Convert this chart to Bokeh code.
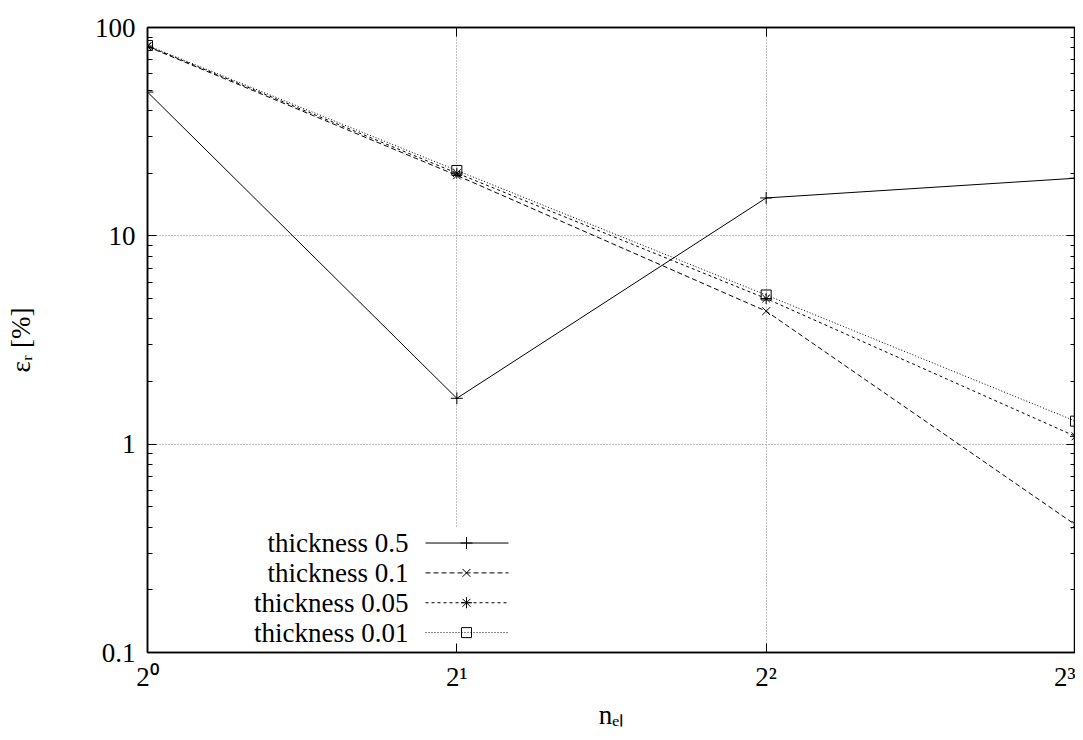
from bokeh.plotting import figure
from bokeh.models import FixedTicker, Range1d, LinearScale, LogAxis
from bokeh.embed import file_html
from bokeh.resources import INLINE
from bokeh.core.properties import value

# ---- data ----
n_el = [1, 2, 4, 8]
x_tick_labels = ["2⁰", "2¹", "2²", "2³"]
y_ticks = [0.1, 1, 10, 100]
y_tick_labels = ["0.1", "1", "10", "100"]
err_t05 = [49.0, 1.66, 15.2, 18.9]
err_t01 = [81.0, 19.5, 4.35, 0.41]
err_t005 = [81.5, 20.0, 5.0, 1.09]
err_t001 = [82.0, 20.6, 5.2, 1.29]
series_names = ["thickness 0.5", "thickness 0.1", "thickness 0.05", "thickness 0.01"]

FONT = "Liberation Serif"
FS = "27px"

W, H = 1075, 732
BL, BR, BT, BB = 147, 0, 27, 77
FW, FH = W - BL - BR, H - BT - BB

p = figure(width=W, height=H, x_axis_type="log", y_axis_type="log",
           x_range=Range1d(1, 8), y_range=Range1d(0.1, 100),
           output_backend="svg", toolbar_location=None,
           min_border_left=BL, min_border_right=BR,
           min_border_top=BT, min_border_bottom=BB)
p.outline_line_color = "black"
p.outline_line_width = 1.5
p.background_fill_color = "white"
p.border_fill_color = "white"

bottom_ax = p.below[0]
left_ax = p.left[0]

y_minor = [m * d for d in (0.1, 1, 10) for m in range(2, 10)]
xt = FixedTicker(ticks=n_el, minor_ticks=[])
yt = FixedTicker(ticks=y_ticks, minor_ticks=y_minor)

# mirror axes
top_ax = LogAxis()
right_ax = LogAxis()
p.add_layout(top_ax, "above")
p.add_layout(right_ax, "right")

for ax, tk in ((bottom_ax, xt), (top_ax, xt), (left_ax, yt), (right_ax, yt)):
    ax.ticker = tk
    ax.major_tick_in = 9
    ax.major_tick_out = 0
    ax.minor_tick_in = 5
    ax.minor_tick_out = 0
    ax.major_tick_line_color = "black"
    ax.minor_tick_line_color = "black"
    ax.axis_line_color = "black"
    ax.axis_line_width = 1.5
    ax.major_label_text_font = FONT
    ax.major_label_text_font_size = FS
    ax.major_label_text_color = "black"

top_ax.major_label_overrides = {v: "" for v in n_el}
right_ax.major_label_overrides = {v: "" for v in y_ticks}
for ax in (top_ax, right_ax):
    ax.major_label_standoff = 0
    ax.major_label_text_font_size = "1px"

bottom_ax.major_label_overrides = {v: s for v, s in zip(n_el, x_tick_labels)}
left_ax.major_label_overrides = {v: s for v, s in zip(y_ticks, y_tick_labels)}
bottom_ax.major_label_standoff = 9
left_ax.major_label_standoff = 12

bottom_ax.axis_label = "nₑₗ"
left_ax.axis_label = "εᵣ [%]"
for ax in (bottom_ax, left_ax):
    ax.axis_label_text_font = FONT
    ax.axis_label_text_font_size = FS
    ax.axis_label_text_font_style = "normal"
    ax.axis_label_text_color = "black"
bottom_ax.axis_label_standoff = 5
left_ax.axis_label_standoff = 56

p.xgrid.ticker = xt
p.ygrid.ticker = yt
for g in (p.xgrid, p.ygrid):
    g.grid_line_color = "#808080"
    g.grid_line_dash = "1 2"
    g.grid_line_width = 1

# legend coordinate system (pixels inside the frame)
p.extra_x_ranges = {"lg": Range1d(0, FW)}
p.extra_y_ranges = {"lg": Range1d(0, FH)}
p.extra_x_scales = {"lg": LinearScale()}
p.extra_y_scales = {"lg": LinearScale()}

p.quad(left=[88], right=[372], bottom=[3], top=[125], fill_color="white",
       line_color=None, x_range_name="lg", y_range_name="lg")

styles = [
    ("solid", "cross", 12),
    ("5 3", "x", 11),
    ("3 3", "asterisk", 11),
    ("1 2", "square", 10),
]
series = [err_t05, err_t01, err_t005, err_t001]
rows_y = [110, 80, 50, 20]

for name, vals, (dash, mk, sz), ry in zip(series_names, series, styles, rows_y):
    p.line(n_el, vals, line_color="black", line_width=1, line_dash=dash)
    p.scatter(n_el, vals, marker=mk, size=sz, line_color="black",
              fill_color=None, line_width=1)
    # legend entry
    p.text(x=[261], y=[ry], text=[name], text_align="right",
           text_baseline="middle", text_font=value(FONT),
           text_font_size=FS, text_color="black",
           x_range_name="lg", y_range_name="lg")
    p.line([278, 361], [ry, ry], line_color="black", line_width=1,
           line_dash=dash, x_range_name="lg", y_range_name="lg")
    p.scatter([319], [ry], marker=mk, size=sz, line_color="black",
              fill_color=None, line_width=1,
              x_range_name="lg", y_range_name="lg")

open("out.html", "w").write(file_html(p, INLINE))
